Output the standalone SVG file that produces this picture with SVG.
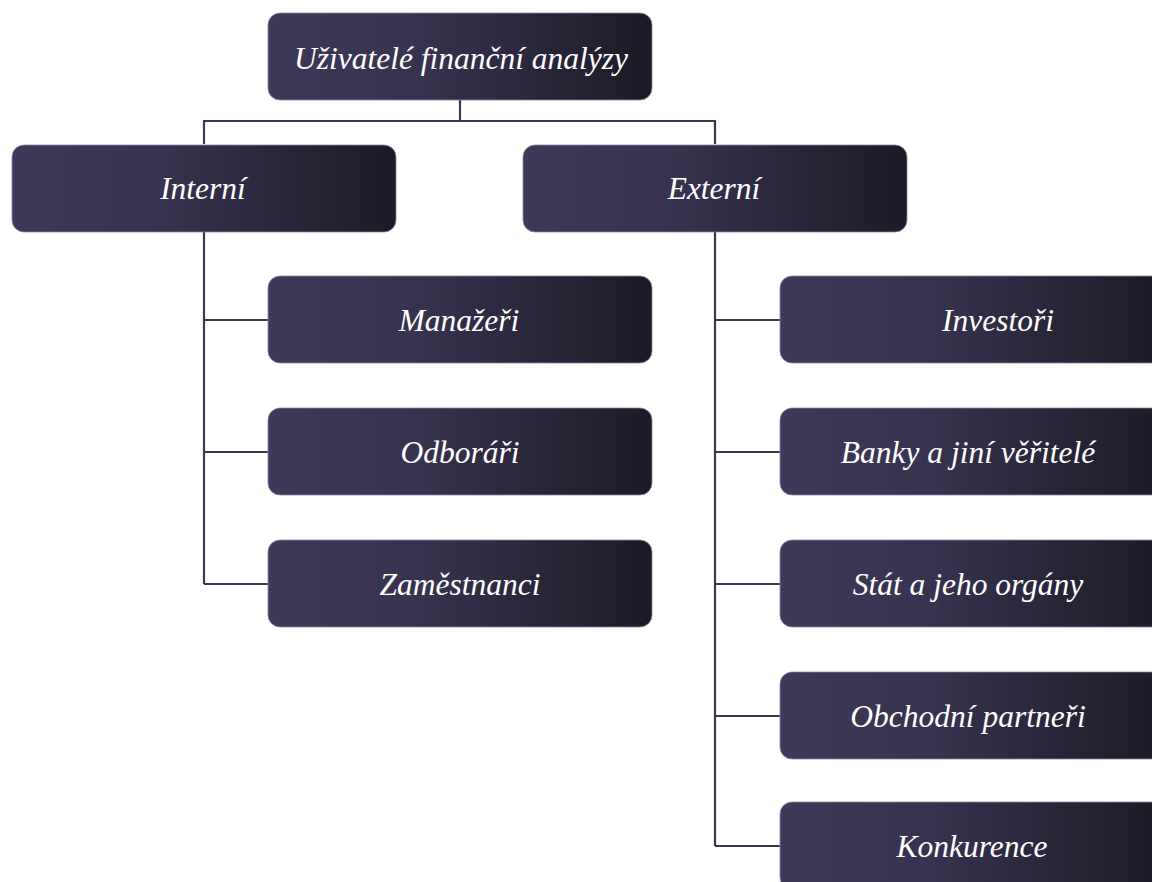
<svg xmlns="http://www.w3.org/2000/svg" width="1152" height="882" viewBox="0 0 1152 882">
<defs>
<linearGradient id="g" x1="0" y1="0" x2="1" y2="0">
<stop offset="0" stop-color="#3e3958"/>
<stop offset="0.4" stop-color="#37324f"/>
<stop offset="1" stop-color="#1c1a26"/>
</linearGradient>
<style>
.box{fill:url(#g);stroke:#8a879c;stroke-width:0.8}
.t{font-family:"Liberation Serif","Times New Roman",serif;font-style:italic;font-size:31.5px;fill:#ffffff;text-anchor:middle}
.c{fill:none;stroke:#3b3654;stroke-width:2.2}
</style>
</defs>
<rect width="1152" height="882" fill="#ffffff"/>
<g id="connectors" class="c">
<path d="M460 100V121M204 144V121H715V144"/>
<path d="M204 232V584M204 320H268M204 452H268M204 584H268"/>
<path d="M715 232V846M715 320H780M715 452H780M715 584H780M715 716H780M715 846H780"/>
</g>
<g id="n-root"><rect class="box" x="268" y="13" width="384" height="87" rx="12"/><text class="t" x="461" y="69">Uživatelé finanční analýzy</text></g>
<g id="n-interni"><rect class="box" x="12" y="145" width="384" height="87" rx="12"/><text class="t" x="203" y="199">Interní</text></g>
<g id="n-externi"><rect class="box" x="523" y="145" width="384" height="87" rx="12"/><text class="t" x="714" y="199">Externí</text></g>
<g id="n-manazeri"><rect class="box" x="268" y="276" width="384" height="87" rx="12"/><text class="t" x="459" y="331">Manažeři</text></g>
<g id="n-odborari"><rect class="box" x="268" y="408" width="384" height="87" rx="12"/><text class="t" x="460" y="463">Odboráři</text></g>
<g id="n-zamestnanci"><rect class="box" x="268" y="540" width="384" height="87" rx="12"/><text class="t" x="460" y="595">Zaměstnanci</text></g>
<g id="n-investori"><rect class="box" x="780" y="276" width="384" height="87" rx="12"/><text class="t" x="998" y="331">Investoři</text></g>
<g id="n-banky"><rect class="box" x="780" y="408" width="384" height="87" rx="12"/><text class="t" x="968" y="463">Banky a jiní věřitelé</text></g>
<g id="n-stat"><rect class="box" x="780" y="540" width="384" height="87" rx="12"/><text class="t" x="968" y="595">Stát a jeho orgány</text></g>
<g id="n-obchodni"><rect class="box" x="780" y="672" width="384" height="87" rx="12"/><text class="t" x="968" y="727">Obchodní partneři</text></g>
<g id="n-konkurence"><rect class="box" x="780" y="802" width="384" height="87" rx="12"/><text class="t" x="972" y="857">Konkurence</text></g>
</svg>
